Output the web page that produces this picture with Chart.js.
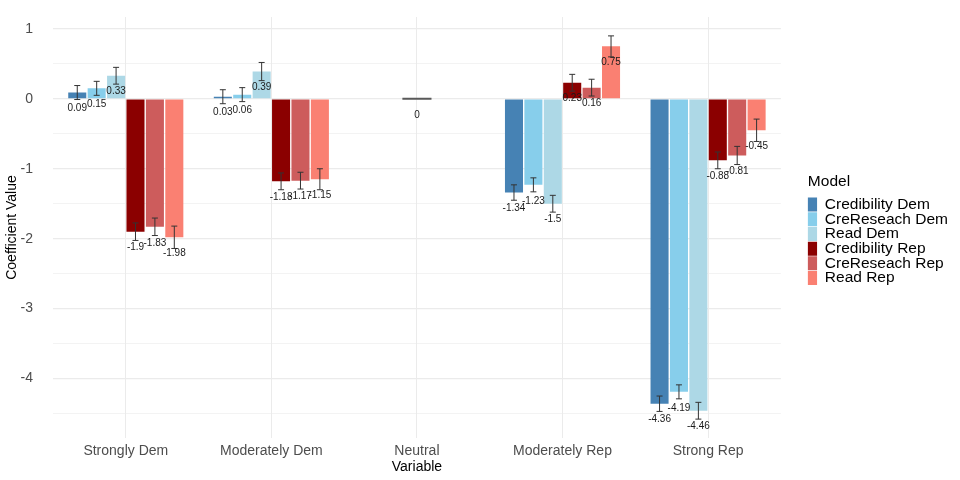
<!DOCTYPE html>
<html>
<head>
<meta charset="utf-8">
<script src="https://cdn.jsdelivr.net/npm/chart.js@4"></script>
<style>
  html, body { margin: 0; padding: 0; background: #fff; }
  #wrap { width: 960px; height: 480px; }
</style>
</head>
<body>
<div id="wrap"><canvas id="coefChart"></canvas></div>
<script>
// categories along the x axis
const variables = ['Strongly Dem', 'Moderately Dem', 'Neutral', 'Moderately Rep', 'Strong Rep'];

// model names, in legend order
const models = ['Credibility Dem', 'CreReseach Dem', 'Read Dem', 'Credibility Rep', 'CreReseach Rep', 'Read Rep'];
const modelColors = ['#4682B4', '#87CEEB', '#ADD8E6', '#8B0000', '#CD5C5C', '#FA8072'];

// coefficient values per model (null = no bar)
const credibilityDem = [0.09, 0.03, null, -1.34, -4.36];
const creReseachDem  = [0.15, 0.06, null, -1.23, -4.19];
const readDem        = [0.33, 0.39, null, -1.5, -4.46];
const credibilityRep = [-1.9, -1.18, null, 0.23, -0.88];
const creReseachRep  = [-1.83, -1.17, null, 0.16, -0.81];
const readRep        = [-1.98, -1.15, null, 0.75, -0.45];

// error bar half-widths
const errCredibilityDem = [0.10, 0.10, null, 0.11, 0.11];
const errCreReseachDem  = [0.10, 0.10, null, 0.10, 0.10];
const errReadDem        = [0.12, 0.13, null, 0.12, 0.12];
const errCredibilityRep = [0.125, 0.12, null, 0.12, 0.12];
const errCreReseachRep  = [0.125, 0.12, null, 0.12, 0.13];
const errReadRep        = [0.16, 0.15, null, 0.15, 0.16];

// the reference category only has a zero coefficient
const neutralValue = [null, null, 0, null, null];

const seriesValues = [credibilityDem, creReseachDem, readDem, credibilityRep, creReseachRep, readRep];
const seriesErrors = [errCredibilityDem, errCreReseachDem, errReadDem, errCredibilityRep, errCreReseachRep, errReadRep];

const datasets = models.map((name, i) => ({
    label: name,
    data: seriesValues[i],
    errors: seriesErrors[i],
    backgroundColor: modelColors[i],
    categoryPercentage: 0.8,
    barPercentage: 0.93
}));

datasets.push({
    label: 'Neutral',
    data: neutralValue,
    backgroundColor: '#595959',
    grouped: false,
    minBarLength: 2,
    categoryPercentage: 1,
    barPercentage: 0.2
});

// error bars + value labels, positioned through the scales
const errorBarPlugin = {
    id: 'errorBars',
    afterDatasetsDraw(chart) {
        const ctx = chart.ctx;
        const y = chart.scales.y;
        ctx.save();
        chart.data.datasets.forEach((ds, di) => {
            const meta = chart.getDatasetMeta(di);
            meta.data.forEach((bar, j) => {
                const v = ds.data[j];
                if (v === null || v === undefined) return;
                const e = ds.errors ? ds.errors[j] : null;
                if (e) {
                    const top = y.getPixelForValue(v + e);
                    const bot = y.getPixelForValue(v - e);
                    ctx.strokeStyle = '#333';
                    ctx.lineWidth = 1;
                    ctx.beginPath();
                    ctx.moveTo(bar.x, top);
                    ctx.lineTo(bar.x, bot);
                    ctx.moveTo(bar.x - 3, top);
                    ctx.lineTo(bar.x + 3, top);
                    ctx.moveTo(bar.x - 3, bot);
                    ctx.lineTo(bar.x + 3, bot);
                    ctx.stroke();
                }
                ctx.fillStyle = '#1a1a1a';
                ctx.font = '10px "Liberation Sans", Arial, sans-serif';
                ctx.textAlign = 'center';
                ctx.textBaseline = 'middle';
                ctx.fillText(String(v), bar.x, y.getPixelForValue(v) + 16);
            });
        });
        ctx.restore();
    }
};

// empty box between plot and legend, like ggplot's legend margin
const legendGap = {
    id: 'legendGap',
    beforeInit(chart) {
        Chart.layouts.addBox(chart, {
            position: 'right',
            weight: 500,
            fullSize: false,
            options: {},
            isHorizontal: () => false,
            update(maxWidth, maxHeight) {
                this.width = 27;
                this.height = maxHeight;
            },
            draw() {}
        });
    }
};

const gridColor = '#ebebeb';
const fontFamily = '"Liberation Sans", Arial, sans-serif';
const tickFont = { family: fontFamily, size: 14 };

new Chart(document.getElementById('coefChart'), {
    type: 'bar',
    data: { labels: variables, datasets: datasets },
    plugins: [errorBarPlugin, legendGap],
    options: {
        responsive: true,
        maintainAspectRatio: false,
        animation: false,
        layout: { padding: { top: 17, left: 4, right: 2, bottom: 6 } },
        plugins: {
            tooltip: { enabled: false },
            legend: {
                position: 'right',
                align: 'start',
                title: {
                    display: true,
                    text: 'Model',
                    position: 'start',
                    color: '#000',
                    font: { family: fontFamily, size: 15.5 },
                    padding: { top: 157, bottom: 5 }
                },
                labels: {
                    filter: item => item.text !== 'Neutral',
                    boxWidth: 10,
                    boxHeight: 14,
                    padding: -0.8,
                    color: '#000',
                    font: { family: fontFamily, size: 15.5, lineHeight: 1 }
                }
            }
        },
        scales: {
            x: {
                grid: { color: gridColor, offset: false, drawTicks: false },
                border: { display: false },
                ticks: {
                    color: '#4d4d4d',
                    font: { family: fontFamily, size: 14, lineHeight: 1 },
                    padding: 6
                },
                title: {
                    display: true,
                    text: 'Variable',
                    color: '#000',
                    font: { family: fontFamily, size: 14, lineHeight: 1 },
                    padding: { top: -4, bottom: 0 }
                }
            },
            y: {
                min: -4.85,
                max: 1.17,
                afterFit: axis => {
                    axis.width = 49;
                    axis.paddingTop = 0;
                    axis.paddingBottom = 0;
                },
                afterBuildTicks: axis => {
                    const t = [];
                    for (let k = -9; k <= 2; k++) t.push({ value: k / 2 });
                    axis.ticks = t;
                },
                grid: {
                    color: gridColor,
                    drawTicks: false,
                    lineWidth: c => (Number.isInteger(c.tick.value) ? 1.2 : 0.6)
                },
                border: { display: false },
                ticks: {
                    color: '#4d4d4d',
                    font: tickFont,
                    padding: 20,
                    callback: v => (Number.isInteger(v) ? String(v) : '')
                },
                title: {
                    display: true,
                    text: 'Coefficient Value',
                    color: '#000',
                    font: tickFont,
                    padding: { top: 0, bottom: 0 }
                }
            }
        }
    }
});
</script>
</body>
</html>
